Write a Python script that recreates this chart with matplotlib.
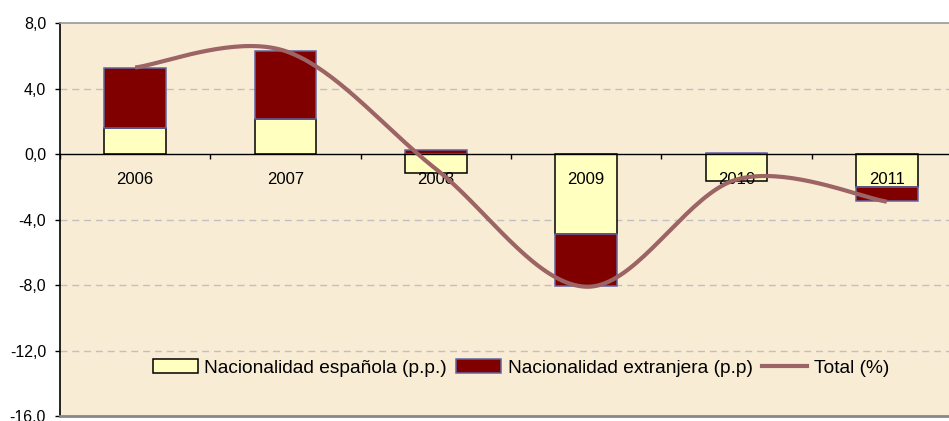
import numpy as np
import matplotlib
matplotlib.use("Agg")
import matplotlib.pyplot as plt
from matplotlib.lines import Line2D
from matplotlib.patches import Patch
from matplotlib.ticker import FixedLocator

years = ["2006", "2007", "2008", "2009", "2010", "2011"]
espanola = [1.59, 2.16, -1.12, -4.87, -1.61, -1.98]
extranjera = [3.68, 4.15, 0.26, -3.21, 0.06, -0.91]
total = [5.3, 6.3, -0.9, -8.1, -1.55, -2.9]
yticks = [8, 4, 0, -4, -8, -12, -16]

plt.rcParams['font.family'] = ['Liberation Sans', 'DejaVu Sans']

fig = plt.figure(figsize=(9.49, 4.21), dpi=100)
ax = fig.add_axes([60/949, 1-416/421, 902/949, (416-23.3)/421])
ax.set_facecolor('#F9ECD4')

# spine positions first (set_position resets ticks)
ax.spines['bottom'].set_position(('data', 0))
ax.spines['bottom'].set_color('black')
ax.spines['bottom'].set_linewidth(1)
ax.spines['left'].set_linewidth(1.2)
ax.spines['top'].set_color('#999999')
ax.spines['top'].set_linewidth(1.2)
ax.spines['right'].set_visible(False)

x = np.arange(len(years))
esp = np.array(espanola)
ext = np.array(extranjera)
bottom_ext = np.where(np.sign(esp) == np.sign(ext), esp, 0.0)

w = 0.41
ax.bar(x, esp, width=w, color='#FFFFC0', edgecolor='black', linewidth=1.1, zorder=1)
ax.bar(x, ext, width=w, bottom=bottom_ext, color='#800000', edgecolor='#6464A0', linewidth=1.1, zorder=1)

# smooth line (Excel-style Bezier through points)
xt = x.astype(float)
yt = np.array(total, dtype=float)
P = np.column_stack([xt, yt])
n = len(P)
curve = []
t = np.linspace(0, 1, 40)
for i in range(n - 1):
    p0 = P[i]
    p3 = P[i + 1]
    pm = P[i - 1] if i > 0 else P[i]
    pp = P[i + 2] if i + 2 < n else P[i + 1]
    c1 = p0 + (p3 - pm) / 6.0
    c2 = p3 - (pp - p0) / 6.0
    seg = ((1-t)**3)[:, None]*p0 + (3*(1-t)**2*t)[:, None]*c1 + (3*(1-t)*t**2)[:, None]*c2 + (t**3)[:, None]*p3
    curve.append(seg)
curve = np.vstack(curve)
ax.plot(curve[:, 0], curve[:, 1], color='#9C6464', linewidth=3.0, solid_capstyle='butt', zorder=3)

ax.set_xlim(-0.5, 5.5)
ax.set_ylim(-16, 8)
ax.set_yticks(yticks)
ax.set_yticklabels([f"{v:.1f}".replace('.', ',') for v in yticks])
ax.set_xticks(x)
ax.set_xticklabels(years)
ax.xaxis.set_minor_locator(FixedLocator(np.arange(-0.5, 6, 1)))
ax.tick_params(axis='x', which='major', length=0, pad=12.5, labelsize=12)
ax.tick_params(axis='x', which='minor', length=3.5, direction='out', width=1)
ax.tick_params(axis='y', length=3.5, direction='out', pad=6.5, width=1, labelsize=11.5)

for v in [4, -4, -8, -12]:
    ax.axhline(v, color='#C0C0C0', linewidth=1, dashes=(5, 3.5), zorder=0.5)

ax.axhline(-16, color='#888888', linewidth=2, clip_on=False, zorder=5)

handles = [
    Patch(facecolor='#FFFFC0', edgecolor='black', linewidth=1.1),
    Patch(facecolor='#800000', edgecolor='#6464A0', linewidth=1.1),
    Line2D([0], [0], color='#9C6464', linewidth=3.0),
]
labels = ["Nacionalidad española (p.p.)", "Nacionalidad extranjera (p.p)", "Total (%)"]
fig.legend(handles, labels, loc='center', bbox_to_anchor=(521/949, 1-368/421),
           bbox_transform=fig.transFigure, ncol=3, frameon=False, fontsize=13.8,
           handlelength=2.35, handleheight=0.68, handletextpad=0.36, columnspacing=0.47,
           borderpad=0, borderaxespad=0)

fig.savefig('out.png', dpi=100)
